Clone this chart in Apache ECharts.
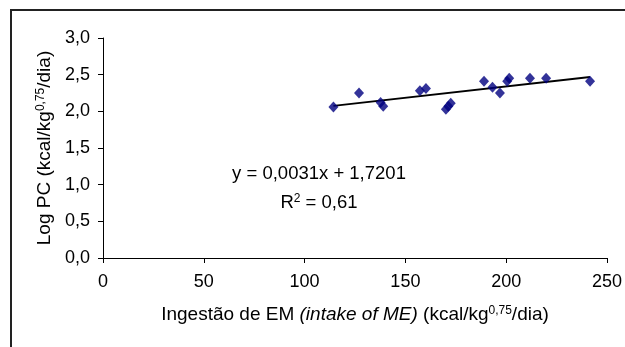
<!DOCTYPE html>
<html>
<head>
<meta charset="utf-8">
<script src="https://cdn.jsdelivr.net/npm/echarts@6/dist/echarts.min.js"></script>
<style>
  html, body { margin: 0; padding: 0; background: #fff; }
  #chart { width: 625px; height: 347px; }
</style>
</head>
<body>
<div id="chart"></div>
<script>
// Ingestão de EM (kcal/kg^0,75/dia)
const intakeME = [114.3, 127.0, 137.7, 139.0, 157.2, 160.2, 170.1, 171.3, 172.5, 189.0, 193.2, 196.9, 200.5, 201.5, 211.8, 219.8, 241.6];
// Log PC
const logPC = [2.06, 2.25, 2.12, 2.07, 2.28, 2.31, 2.03, 2.07, 2.11, 2.41, 2.33, 2.25, 2.41, 2.45, 2.45, 2.45, 2.41];

// linha de tendência (Excel)
const trendSlope = 0.0031;
const trendIntercept = 1.7201;
const trendR2 = 0.61;

const xTickLabels = ['0', '50', '100', '150', '200', '250'];
const yTickLabels = ['0,0', '0,5', '1,0', '1,5', '2,0', '2,5', '3,0'];

const fmt = (v, d) => v.toFixed(d).replace('.', ',');
const xMin = Math.min(...intakeME);
const xMax = Math.max(...intakeME);
const trendData = [xMin, xMax].map(x => [x, trendIntercept + trendSlope * x]);

const font = 'Liberation Sans, Arial, sans-serif';

const chart = echarts.init(document.getElementById('chart'));
const option = {
  animation: false,
  textStyle: { fontFamily: font },
  grid: { left: 103, top: 38, right: 18, bottom: 89 },
  xAxis: {
    type: 'value',
    min: 0, max: 250, interval: 50,
    name: 'Ingestão de EM {it|(intake of ME)} (kcal/kg{sup|0,75}/dia)',
    nameLocation: 'middle',
    nameGap: 47,
    nameTextStyle: {
      fontSize: 19, color: '#000', fontFamily: font,
      rich: {
        it: { fontSize: 19, fontStyle: 'italic', color: '#000', fontFamily: font },
        sup: { fontSize: 12, verticalAlign: 'top', color: '#000', fontFamily: font }
      }
    },
    axisLine: { show: true, lineStyle: { color: '#000', width: 1 } },
    axisTick: { show: true, length: 5, lineStyle: { color: '#000' } },
    axisLabel: {
      fontSize: 18, color: '#000', margin: 15,
      formatter: v => xTickLabels[Math.round(v / 50)]
    },
    splitLine: { show: false }
  },
  yAxis: {
    type: 'value',
    min: 0, max: 3, interval: 0.5,
    name: 'Log PC (kcal/kg{sup|0,75}/dia)',
    nameLocation: 'middle',
    nameRotate: 90,
    nameGap: 48,
    nameTextStyle: {
      fontSize: 19, color: '#000', fontFamily: font,
      rich: {
        sup: { fontSize: 12, verticalAlign: 'top', color: '#000', fontFamily: font }
      }
    },
    axisLine: { show: true, lineStyle: { color: '#000', width: 1 } },
    axisTick: { show: true, length: 5, lineStyle: { color: '#000' } },
    axisLabel: {
      fontSize: 18, color: '#000', margin: 13,
      formatter: v => yTickLabels[Math.round(v / 0.5)]
    },
    splitLine: { show: false }
  },
  graphic: [
    {
      type: 'rect',
      shape: { x: 11, y: 10, width: 800, height: 500 },
      style: { fill: 'none', stroke: '#222', lineWidth: 2 },
      silent: true
    },
    {
      type: 'text',
      x: 319, y: 159,
      style: {
        text: 'y = ' + fmt(trendSlope, 4) + 'x + ' + fmt(trendIntercept, 4) + '\nR{sup|2} = ' + fmt(trendR2, 2),
        align: 'center',
        fontSize: 18.5,
        lineHeight: 29,
        fill: '#000',
        fontFamily: font,
        rich: {
          sup: { fontSize: 12, verticalAlign: 'top', fill: '#000', fontFamily: font, lineHeight: 29, padding: [5, 0, 0, 0] }
        }
      },
      silent: true
    }
  ],
  series: [
    {
      type: 'line',
      data: trendData,
      showSymbol: false,
      lineStyle: { color: '#000', width: 2 },
      z: 1
    },
    {
      type: 'scatter',
      data: intakeME.map((x, i) => [x, logPC[i]]),
      symbol: 'diamond',
      symbolSize: [10, 11],
      itemStyle: { color: '#000080' },
      z: 3
    }
  ]
};
chart.setOption(option);
</script>
</body>
</html>
